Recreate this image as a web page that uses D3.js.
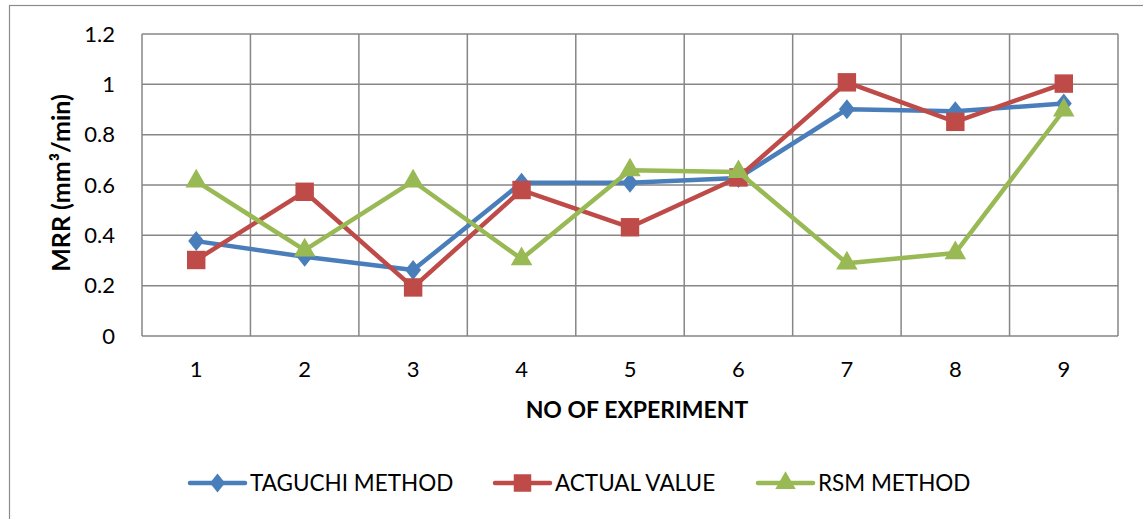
<!DOCTYPE html>
<html>
<head>
<meta charset="utf-8">
<script src="https://cdn.jsdelivr.net/npm/d3@7"></script>
<style>
  body { margin: 0; background: #fff; }
  svg { display: block; font-family: Lato, "Open Sans", sans-serif; }
</style>
</head>
<body>
<div id="chart-area"></div>
<script>
var experiments = ["1", "2", "3", "4", "5", "6", "7", "8", "9"];
var taguchi = [0.377, 0.315, 0.262, 0.609, 0.609, 0.628, 0.901, 0.893, 0.924];
var actual = [0.302, 0.573, 0.193, 0.580, 0.432, 0.630, 1.008, 0.851, 1.003];
var rsm = [0.615, 0.341, 0.615, 0.306, 0.659, 0.652, 0.289, 0.330, 0.897];
var yTicks = [0, 0.2, 0.4, 0.6, 0.8, 1, 1.2];

// excel-like diamond, a bit wider than d3's default
var diamond = {
    draw: function (context, size) {
        var h = Math.sqrt(size / 1.6), w = h * 0.8;
        context.moveTo(0, -h);
        context.lineTo(w, 0);
        context.lineTo(0, h);
        context.lineTo(-w, 0);
        context.closePath();
    }
};

var series = [
    { name: "TAGUCHI METHOD", values: taguchi, color: "#4a7ebb", shape: diamond, size: 160, lx: 190 },
    { name: "ACTUAL VALUE", values: actual, color: "#be4b48", shape: d3.symbolSquare, size: 340, lx: 495 },
    { name: "RSM METHOD", values: rsm, color: "#98b954", shape: d3.symbolTriangle, size: 200, lx: 758 }
];

var W = 1143, H = 519;
var margin = { top: 34, right: 25, bottom: 183, left: 142 };
var width = 1118 - margin.left;
var height = 336 - margin.top;

var svg = d3.select("#chart-area")
    .append("svg")
    .attr("width", W)
    .attr("height", H);

// outer chart frame
svg.append("rect")
    .attr("x", 9.5).attr("y", 5.5)
    .attr("width", W).attr("height", H)
    .attr("fill", "none")
    .attr("stroke", "#8c8c8c")
    .attr("stroke-width", 1.2);

var g = svg.append("g")
    .attr("transform", "translate(" + margin.left + "," + margin.top + ")");

var x = d3.scaleBand().domain(experiments).range([0, width]).padding(0);
var y = d3.scaleLinear().domain([0, 1.2]).range([height, 0]);

// grid
g.selectAll(".hgrid").data(yTicks).enter().append("line")
    .attr("class", "hgrid")
    .attr("x1", 0).attr("x2", width)
    .attr("y1", d => y(d)).attr("y2", d => y(d))
    .attr("stroke", "#868686").attr("stroke-width", 1.5);

var vLines = experiments.map(d => x(d)).concat([width]);
g.selectAll(".vgrid").data(vLines).enter().append("line")
    .attr("class", "vgrid")
    .attr("x1", d => d).attr("x2", d => d)
    .attr("y1", 0).attr("y2", height)
    .attr("stroke", "#868686").attr("stroke-width", 1.5);

// axes
var yAxis = g.append("g")
    .call(d3.axisLeft(y).tickValues(yTicks).tickSize(0).tickPadding(27).tickFormat(d3.format("")));
yAxis.select(".domain").remove();
yAxis.selectAll("text").attr("font-size", "22px").attr("fill", "#000").attr("font-family", "Lato");

var xAxis = g.append("g")
    .attr("transform", "translate(0," + height + ")")
    .call(d3.axisBottom(x).tickSize(0).tickPadding(25));
xAxis.select(".domain").remove();
xAxis.selectAll("text").attr("font-size", "22px").attr("fill", "#000").attr("font-family", "Lato");

g.append("text")
    .attr("x", width / 2 + 7)
    .attr("y", height + 82)
    .attr("text-anchor", "middle")
    .attr("font-size", "23px")
    .attr("font-weight", "bold")
    .text("NO OF EXPERIMENT");

g.append("text")
    .attr("transform", "translate(" + (-72) + "," + (height / 2 - 2) + ") rotate(-90)")
    .attr("text-anchor", "middle")
    .attr("font-size", "25px")
    .attr("font-weight", "bold")
    .text("MRR (mm³/min)");

// series
var line = d3.line()
    .x((d, i) => x(experiments[i]) + x.bandwidth() / 2)
    .y(d => y(d));

series.forEach(s => {
    g.append("path")
        .datum(s.values)
        .attr("d", line)
        .attr("fill", "none")
        .attr("stroke", s.color)
        .attr("stroke-width", 4.5)
        .attr("stroke-linejoin", "round");

    g.selectAll(null)
        .data(s.values)
        .enter().append("path")
        .attr("transform", (d, i) => "translate(" + (x(experiments[i]) + x.bandwidth() / 2) + "," + y(d) + ")")
        .attr("d", d3.symbol().type(s.shape).size(s.size))
        .attr("fill", s.color);
});

// legend
var legend = svg.append("g").attr("transform", "translate(0,483)");
series.forEach(s => {
    legend.append("line")
        .attr("x1", s.lx).attr("x2", s.lx + 55)
        .attr("y1", 0).attr("y2", 0)
        .attr("stroke", s.color).attr("stroke-width", 4.5)
        .attr("stroke-linecap", "round");
    legend.append("path")
        .attr("transform", "translate(" + (s.lx + 27.5) + ",0)")
        .attr("d", d3.symbol().type(s.shape).size(s.size * 0.9))
        .attr("fill", s.color);
    legend.append("text")
        .attr("x", s.lx + 60)
        .attr("y", 8)
        .attr("font-size", "22.5px")
        .text(s.name);
});
</script>
</body>
</html>
